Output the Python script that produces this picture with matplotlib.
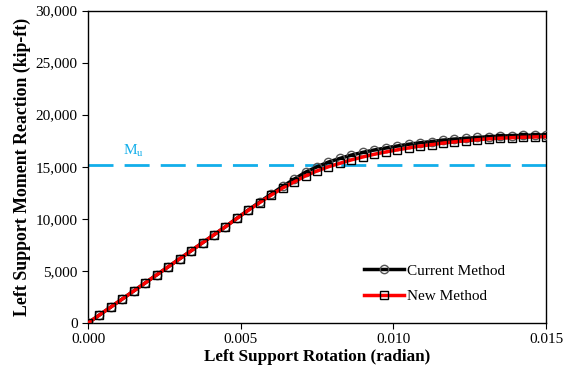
import matplotlib
matplotlib.use("Agg")
import matplotlib.pyplot as plt
from matplotlib.ticker import StrMethodFormatter

plt.rcParams['font.family'] = ['Liberation Serif', 'DejaVu Serif']
plt.rcParams['mathtext.fontset'] = 'custom'
plt.rcParams['mathtext.rm'] = 'Liberation Serif'

# rotation steps (radian), 41 points every 0.000375
rotation = [i * 0.000375 for i in range(41)]

# Left support moment reaction (kip-ft)
current_method = [0, 770, 1540, 2310, 3080, 3850, 4620, 5390, 6160, 6930,
                  7700, 8470, 9240, 10050, 10850, 11620, 12380, 13120, 13800, 14480,
                  15000, 15450, 15800, 16120, 16380, 16610, 16800, 16990, 17160, 17300,
                  17420, 17550, 17650, 17730, 17810, 17880, 17940, 17980, 18010, 18040,
                  18050]
new_method = [0, 770, 1540, 2310, 3080, 3850, 4620, 5390, 6160, 6930,
              7700, 8470, 9240, 10040, 10820, 11560, 12280, 12960, 13540, 14130,
              14600, 15000, 15330, 15660, 15940, 16200, 16420, 16620, 16810, 16980,
              17120, 17270, 17390, 17490, 17590, 17680, 17740, 17790, 17830, 17860,
              17890]

mu_value = 15200


def main():
    fig = plt.figure(figsize=(5.73, 3.75), dpi=100)
    ax = fig.add_axes([0.1536, 0.1387, 0.7993, 0.8333])

    ax.axhline(mu_value, color='#12AEEA', lw=2, dashes=(9, 4), zorder=1)
    ax.text(0.00114, mu_value + 500, r'$\mathregular{M_u}$', color='#12AEEA',
            fontsize=11, va='bottom', ha='left')

    ax.plot(rotation, current_method, color='black', lw=2.5, marker='o', ms=6,
            mfc='none', mec='#555555', mew=1, label='Current Method', zorder=3)
    ax.plot(rotation, new_method, color='#FF0000', lw=2.5, marker='s', ms=6,
            mfc='none', mec='black', mew=1, label='New Method', zorder=4)

    ax.set_xlim(0, 0.015)
    ax.set_ylim(0, 30000)
    ax.set_xticks([0, 0.005, 0.010, 0.015])
    ax.set_yticks(range(0, 30001, 5000))
    ax.xaxis.set_major_formatter(StrMethodFormatter('{x:.3f}'))
    ax.yaxis.set_major_formatter(StrMethodFormatter('{x:,.0f}'))
    ax.tick_params(direction='out', length=4, width=0.8, labelsize=11, colors='black')

    for s in ax.spines.values():
        s.set_linewidth(1)
        s.set_color('black')

    ax.set_xlabel('Left Support Rotation (radian)', fontsize=12.3, fontweight='bold', labelpad=2)
    ax.set_ylabel('Left Support Moment Reaction (kip-ft)', fontsize=12.8, fontweight='bold', labelpad=3)

    ax.legend(loc='lower right', bbox_to_anchor=(0.94, 0.02), frameon=False,
              fontsize=11, handlelength=2.6, handletextpad=0.2, labelspacing=0.75)

    fig.savefig('out.png', dpi=100)


if __name__ == '__main__':
    main()
